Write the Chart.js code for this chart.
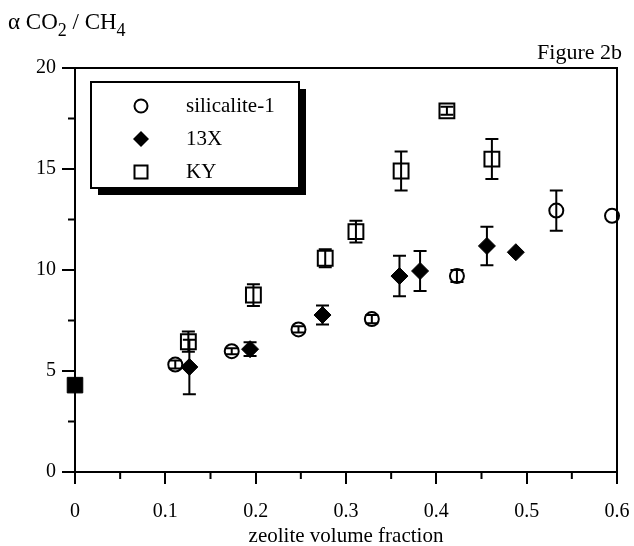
<!DOCTYPE html>
<html><head><meta charset="utf-8">
<script src="https://cdn.jsdelivr.net/npm/chart.js@4/dist/chart.umd.min.js"></script>
<style>html,body{margin:0;padding:0;background:#fff}</style>
</head><body>
<canvas id="c" width="634" height="546"></canvas>
<script>
// ---- data ----
const xSilicalite = [0.111, 0.1735, 0.2474, 0.3286, 0.4228, 0.5328, 0.5945];
const ySilicalite = [5.32, 5.98, 7.06, 7.57, 9.7, 12.94, 12.68];
const eSilicalite = [0.2, 0.15, 0.15, 0.2, 0.3, 1.0, 0];

const x13X = [0.1266, 0.1938, 0.274, 0.3592, 0.382, 0.456, 0.488];
const y13X = [5.2, 6.08, 7.77, 9.7, 9.95, 11.19, 10.88];
const e13X = [1.35, 0.34, 0.47, 1.0, 0.99, 0.95, 0];

const xKY = [0.1255, 0.1975, 0.277, 0.311, 0.361, 0.4117, 0.4615];
const yKY = [6.45, 8.76, 10.58, 11.9, 14.9, 17.88, 15.49];
const eKY = [0.5, 0.54, 0.45, 0.54, 0.97, 0.2, 0.99];

const xPolymer = [0];
const yPolymer = [4.3];
const ePolymer = [0];

const seriesNames = ['silicalite-1', '13X', 'KY'];
const xMinorTicks = [0.05, 0.15, 0.25, 0.35, 0.45, 0.55];
const yMinorTicks = [2.5, 7.5, 12.5, 17.5];

const SERIF = '"Liberation Serif", "DejaVu Serif", serif';

function pts(xs, ys, es) { return xs.map((x, i) => ({x: x, y: ys[i], e: es[i]})); }

const framePlugin = {
  id: 'frame',
  afterDatasetsDraw(chart) {
    const ctx = chart.ctx, a = chart.chartArea;
    const xs = chart.scales.x, ys = chart.scales.y;
    ctx.save();
    ctx.strokeStyle = '#000';
    ctx.lineWidth = 2;
    // error bars
    chart.data.datasets.forEach((ds) => {
      ds.data.forEach((p) => {
        if (!p.e) return;
        const px = xs.getPixelForValue(p.x);
        const y1 = ys.getPixelForValue(p.y + p.e);
        const y2 = ys.getPixelForValue(p.y - p.e);
        ctx.beginPath();
        ctx.moveTo(px, y1); ctx.lineTo(px, y2);
        ctx.moveTo(px - 6.5, y1); ctx.lineTo(px + 6.5, y1);
        ctx.moveTo(px - 6.5, y2); ctx.lineTo(px + 6.5, y2);
        ctx.stroke();
      });
    });
    // top & right frame
    ctx.beginPath();
    ctx.moveTo(a.left, a.top); ctx.lineTo(a.right, a.top); ctx.lineTo(a.right, a.bottom);
    ctx.stroke();
    // minor ticks
    ctx.beginPath();
    xMinorTicks.forEach(v => { const px = xs.getPixelForValue(v); ctx.moveTo(px, a.bottom); ctx.lineTo(px, a.bottom + 7); });
    yMinorTicks.forEach(v => { const py = ys.getPixelForValue(v); ctx.moveTo(a.left, py); ctx.lineTo(a.left - 7, py); });
    ctx.stroke();

    // legend box with shadow
    const bx = 91, by = 82, bw = 208, bh = 106;
    ctx.fillStyle = '#000';
    ctx.fillRect(bx + 7, by + 7, bw, bh);
    ctx.fillStyle = '#fff';
    ctx.fillRect(bx, by, bw, bh);
    ctx.lineWidth = 2;
    ctx.strokeRect(bx, by, bw, bh);
    const rows = [106, 139, 172];
    const mx = 141;
    // circle
    ctx.beginPath(); ctx.arc(mx, rows[0], 6.5, 0, Math.PI * 2); ctx.stroke();
    // diamond
    ctx.fillStyle = '#000';
    ctx.beginPath(); ctx.moveTo(mx, rows[1] - 8); ctx.lineTo(mx + 8, rows[1]); ctx.lineTo(mx, rows[1] + 8); ctx.lineTo(mx - 8, rows[1]); ctx.closePath(); ctx.fill();
    // square
    ctx.strokeRect(mx - 6.5, rows[2] - 6.5, 13, 13);
    ctx.font = '21px ' + SERIF;
    ctx.textBaseline = 'middle';
    ctx.textAlign = 'left';
    seriesNames.forEach((n, i) => ctx.fillText(n, 186, rows[i]));

    // titles
    ctx.textBaseline = 'alphabetic';
    let x = 8;
    const base = 29;
    const parts = [['\u03B1 CO', 0, 23], ['2', 7, 18], [' / CH', 0, 23], ['4', 7, 18]];
    parts.forEach(([t, dy, s]) => {
      ctx.font = s + 'px ' + SERIF;
      ctx.fillText(t, x, base + dy);
      x += ctx.measureText(t).width;
    });
    ctx.font = '22px ' + SERIF;
    ctx.textAlign = 'right';
    ctx.fillText('Figure 2b', 622, 59);
    ctx.restore();
  }
};

new Chart(document.getElementById('c'), {
  type: 'scatter',
  data: {
    datasets: [
      { label: seriesNames[0], data: pts(xSilicalite, ySilicalite, eSilicalite), pointStyle: 'circle', pointRadius: 7, borderColor: '#000', backgroundColor: '#fff', borderWidth: 2, clip: false },
      { label: seriesNames[1], data: pts(x13X, y13X, e13X), pointStyle: 'rectRot', pointRadius: 8.5, borderColor: '#000', backgroundColor: '#000', borderWidth: 1, clip: false },
      { label: seriesNames[2], data: pts(xKY, yKY, eKY), pointStyle: 'rect', pointRadius: 10.5, borderColor: '#000', backgroundColor: '#fff', borderWidth: 2, clip: false },
      { label: 'polymer', data: pts(xPolymer, yPolymer, ePolymer), pointStyle: 'rect', pointRadius: 11, borderColor: '#000', backgroundColor: '#000', borderWidth: 1, clip: false }
    ]
  },
  options: {
    responsive: false,
    animation: false,
    devicePixelRatio: 1,
    layout: { padding: { top: 68, right: 17, left: 0, bottom: 0 } },
    plugins: { legend: { display: false }, tooltip: { enabled: false } },
    scales: {
      x: {
        type: 'linear', min: 0, max: 0.6,
        afterFit: (s) => { s.height = 74; s.paddingRight = 0; s.paddingLeft = 0; },
        ticks: { stepSize: 0.1, color: '#000', padding: 16, font: { family: SERIF, size: 20 },
                 callback: (v) => (Math.round(v * 10) / 10).toString() },
        grid: { drawOnChartArea: false, drawTicks: true, tickLength: 12, color: '#000', lineWidth: 2 },
        border: { display: true, color: '#000', width: 2 },
        title: { display: true, text: 'zeolite volume fraction', color: '#000', font: { family: SERIF, size: 21, lineHeight: 0.9 }, padding: { top: 0, bottom: 0 } }
      },
      y: {
        type: 'linear', min: 0, max: 20,
        afterFit: (s) => { s.width = 75; s.paddingTop = 0; s.paddingBottom = 0; },
        ticks: { stepSize: 5, color: '#000', padding: 6, font: { family: SERIF, size: 20 } },
        grid: { drawOnChartArea: false, drawTicks: true, tickLength: 13, color: '#000', lineWidth: 2 },
        border: { display: true, color: '#000', width: 2 }
      }
    }
  },
  plugins: [framePlugin]
});
</script>
</body></html>
